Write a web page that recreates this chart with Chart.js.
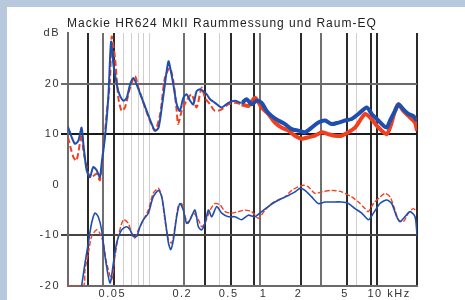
<!DOCTYPE html>
<html>
<head>
<meta charset="utf-8">
<script src="https://cdn.jsdelivr.net/npm/chart.js@4.4.1/dist/chart.umd.min.js"></script>
<style>
  html, body { margin: 0; padding: 0; }
  body { width: 465px; height: 300px; background: #b8c9de; position: relative; overflow: hidden; }
  #panel { position: absolute; left: 7px; top: 7px; width: 458px; height: 293px; background: #fff; }
  #panel canvas { display: block; }
</style>
</head>
<body>
<div id="panel"><canvas id="fr" width="458" height="293"></canvas></div>
<script>
// Raummessung (ohne EQ), [Hz, dB]
const blueRoom = [[20,10.7],[20.1,11.3],[21.5,9.4],[23,8.1],[24.5,8.7],[26.2,11.3],[27.1,8.1],[28.9,2.9],[30.9,1.5],[32.9,3.5],[35.2,2.9],[37.6,1.5],[38.9,4.2],[41.6,9.4],[44.4,17.2],[46.9,28.3],[49.1,23.8],[50.7,21.8],[54.2,18.5],[59.8,16.6],[63.9,17.2],[68.3,19.8],[72.9,21.1],[77.9,19.8],[86,17.2],[94.9,14.6],[105,12.0],[112,10.7],[120,11.3],[128,15.3],[136,19.8],[146,24.4],[153,22.5],[161,19.8],[172,15.9],[183,14.6],[196,17.2],[209,17.9],[224,16.6],[239,15.9],[255,18.5],[273,18.9],[291,18.5],[311,17.9],[333,16.9],[367,16.2],[419,15.3],[478,16.2],[546,16.6],[622,16.2],[686,16.9],[758,15.9],[837,16.6],[924,16.2],[1020,14.6],[1126,13.6],[1285,12.7],[1466,12.0],[1674,11.0],[1910,10.7],[2179,10.4],[2487,11.3],[2838,12.3],[3239,12.7],[3696,12.0],[4218,12.3],[4814,12.7],[5494,13.0],[6269,14.0],[7396,15.3],[8166,14.0],[9314,12.7],[10280,11.7],[10990,11.3],[11730,12.7],[12950,14.6],[13840,15.9],[15270,14.9],[16870,14.0],[18590,13.6],[19860,12.7]];
const redRoom = [[20,9.4],[22.2,5.5],[23.7,4.8],[26.2,10.0],[27.1,6.8],[29.9,2.2],[31.9,1.5],[35.2,2.2],[37.6,0.9],[40.2,6.8],[43,14.0],[45.9,20.5],[47.5,29.3],[50.7,25.1],[54.2,17.2],[57.8,14.6],[61.8,15.3],[68.3,19.2],[75.3,21.5],[80.5,19.2],[91.8,15.3],[101,12.7],[112,10.7],[124,14.0],[136,21.1],[150,23.1],[161,20.5],[172,14.6],[177,12.0],[190,14.6],[209,16.6],[231,17.9],[255,15.3],[282,19.2],[301,17.2],[333,15.9],[367,14.6],[419,14.9],[478,15.9],[546,16.2],[622,15.9],[710,15.6],[810,17.2],[924,15.3],[1054,14.0],[1203,12.3],[1373,11.3],[1567,10.7],[1788,9.7],[2040,9.1],[2328,9.4],[2657,9.7],[3032,10.4],[3460,10.0],[3949,9.7],[4506,9.7],[5143,10.4],[5869,11.3],[7155,14.0],[7901,13.3],[9006,11.7],[10280,10.4],[10990,10.0],[11730,11.3],[12950,14.6],[13840,15.9],[15270,14.6],[17420,13.3],[19220,12.3],[20000,10.7]];

// mit Raum-EQ, [Hz, dB]
const blueEq = [[26.2,-20],[28,-15.5],[29.9,-11.5],[31.9,-7.6],[34.1,-5.6],[36.4,-6.3],[38.9,-8.9],[41.6,-14.1],[45.9,-19.4],[49.1,-15.5],[52.4,-11.5],[57.8,-8.9],[63.9,-8.3],[68.3,-8.9],[72.9,-10.2],[77.9,-10.2],[83.2,-8.3],[88.9,-6.9],[98.1,-5.6],[108,-2.4],[120,-1.1],[128,-2.4],[136,-6.3],[146,-11.5],[153,-12.8],[161,-10.9],[172,-6.3],[183,-3.7],[196,-5.0],[209,-7.6],[224,-6.9],[247,-5.0],[264,-8.3],[282,-8.9],[301,-7.6],[322,-5.0],[344,-6.3],[380,-4.3],[419,-5.6],[478,-6.3],[546,-6.3],[622,-6.9],[710,-6.0],[810,-6.3],[924,-5.3],[1054,-4.3],[1203,-3.4],[1373,-2.7],[1567,-2.1],[1788,-1.4],[1974,-0.7],[2179,-1.1],[2487,-2.4],[2838,-3.7],[3239,-3.4],[3696,-3.4],[4506,-3.4],[5143,-3.7],[5869,-4.7],[6698,-5.6],[7644,-6.9],[8441,-5.6],[9620,-3.7],[10990,-3.0],[12120,-3.7],[13380,-6.3],[14310,-7.3],[15780,-6.3],[17420,-5.3],[19220,-6.3],[19860,-8.9],[20000,-10.2]];
const redEq = [[20,-20],[27.1,-20],[28,-16.8],[29.9,-13.5],[31.9,-10.2],[35.2,-8.9],[37.6,-9.6],[40.2,-11.5],[43,-15.5],[47.5,-18.7],[50.7,-14.1],[54.2,-10.2],[59.8,-6.9],[66,-7.6],[70.5,-9.6],[75.3,-10.5],[80.5,-8.9],[88.9,-6.9],[98.1,-5.0],[108,-1.7],[120,-0.7],[128,-2.4],[136,-6.9],[146,-10.9],[156,-11.5],[166,-8.3],[177,-4.3],[190,-3.7],[203,-6.3],[216,-7.6],[239,-5.6],[264,-6.9],[282,-8.3],[301,-7.6],[333,-5.0],[367,-3.7],[406,-4.0],[448,-5.3],[511,-5.6],[583,-5.3],[664,-5.0],[758,-5.3],[865,-6.6],[987,-5.0],[1126,-3.7],[1285,-3.0],[1466,-2.4],[1674,-1.1],[1910,-0.4],[2109,-0.1],[2328,-0.4],[2657,-1.7],[3032,-1.4],[3696,-1.1],[4506,-1.4],[5494,-2.4],[6269,-3.4],[7155,-4.7],[7644,-5.3],[8441,-3.7],[9620,-2.4],[10620,-1.7],[11730,-2.4],[12950,-5.0],[13840,-6.9],[15270,-7.3],[16870,-5.6],[18590,-4.7],[19860,-5.3]];

// Achsen
const gridDark  = [30, 50, 300, 500, 800, 2000, 5000, 8000, 9000, 20000];
const gridMid   = [40, 200, 900, 3000];
const gridLight = [60, 70, 80, 90, 100, 400, 6000];
const xLabels   = { 50: '0.05', 200: '0.2', 500: '0.5', 1000: '1', 2000: '2', 5000: '5', 10000: '    10 kHz' };
const yTicks    = [-20, -10, 0, 10, 20, 30];
const yLabels   = { '-20': '-20', '-10': '-10', '0': '0', '10': '10', '20': '20', '30': 'dB' };
const yGrid     = { '-10': '#444', '10': '#1a1a1a', '20': '#6a6a6a' };
const title     = 'Mackie HR624 MkII Raummessung und Raum-EQ';

const BLUE = '#1f4fae';
const RED  = '#f2401f';
const FONT = '"Liberation Sans", Arial, sans-serif';

const xTickValues = [...new Set([...gridDark, ...gridMid, ...gridLight, ...Object.keys(xLabels).map(Number)])].sort((a, b) => a - b);

function xGridColor(v) {
  if (gridDark.includes(v)) return '#2a2a2a';
  if (gridMid.includes(v)) return '#707070';
  if (gridLight.includes(v)) return '#cfcfcf';
  return 'rgba(0,0,0,0)';
}

const pts = arr => arr.map(([x, y]) => ({ x, y }));

const letterSpacing = {
  id: 'letterSpacing',
  beforeDraw(chart) { chart.ctx.letterSpacing = '1.5px'; }
};

const titleText = {
  id: 'titleText',
  afterDraw(chart) {
    const { ctx, chartArea } = chart;
    ctx.save();
    ctx.letterSpacing = '1px';
    ctx.font = '12px ' + FONT;
    ctx.fillStyle = '#222';
    ctx.textAlign = 'left';
    ctx.textBaseline = 'alphabetic';
    ctx.fillText(title, chartArea.left - 1, 20);
    ctx.restore();
  }
};

// noisy band above ~600 Hz drawn as a wider stroke
const hiWidth = ctx => ctx.p0.parsed.x > 600 ? 4 : 2;

new Chart(document.getElementById('fr'), {
  type: 'line',
  data: {
    datasets: [
      { data: pts(blueRoom), borderColor: BLUE, borderWidth: 2, segment: { borderWidth: hiWidth } },
      { data: pts(redRoom),  borderColor: RED,  borderWidth: 2, segment: { borderWidth: hiWidth, borderDash: c => c.p0.parsed.x < 600 ? [6, 3] : [] } },
      { data: pts(blueEq),   borderColor: BLUE, borderWidth: 1.6 },
      { data: pts(redEq),    borderColor: RED,  borderWidth: 1.4, borderDash: [5, 2] },
    ]
  },
  options: {
    responsive: false,
    animation: false,
    layout: { padding: { top: 26, right: 48, left: 0, bottom: 0 } },
    elements: { point: { radius: 0 }, line: { tension: 0.25, fill: false } },
    plugins: { legend: { display: false }, tooltip: { enabled: false }, title: { display: false } },
    scales: {
      x: {
        type: 'logarithmic',
        min: 20, max: 20000,
        afterBuildTicks: s => { s.ticks = xTickValues.map(v => ({ value: v })); },
        afterFit: s => { s.height = 14; },
        border: { color: '#6a6a6a', width: 2 },
        grid: {
          drawTicks: false,
          color: c => xGridColor(c.tick && c.tick.value),
          lineWidth: c => gridLight.includes(c.tick && c.tick.value) ? 1 : 2,
        },
        ticks: {
          autoSkip: false, maxRotation: 0, padding: 1, labelOffset: -2,
          color: '#333', font: { family: FONT, size: 11 },
          callback: v => xLabels[v] || '',
        }
      },
      y: {
        min: -20, max: 30,
        afterBuildTicks: s => { s.ticks = yTicks.map(v => ({ value: v })); },
        afterFit: s => { s.width = 61; },
        border: { color: '#6a6a6a', width: 2 },
        grid: {
          tickLength: 7,
          color: c => yGrid[c.tick && c.tick.value] || 'rgba(0,0,0,0)',
          tickColor: c => yGrid[c.tick && c.tick.value] || 'rgba(0,0,0,0)',
          lineWidth: 2,
        },
        ticks: {
          padding: 1,
          color: '#333', font: { family: FONT, size: 11 },
          callback: v => yLabels[v] || '',
        }
      }
    }
  },
  plugins: [letterSpacing, titleText]
});
</script>
</body>
</html>
